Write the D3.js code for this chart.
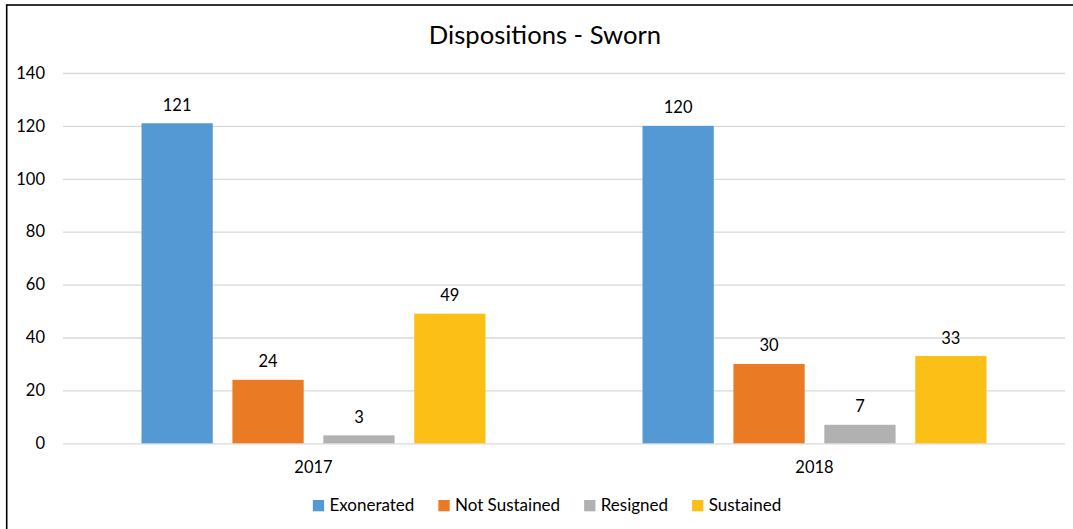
<!DOCTYPE html>
<html>
<head>
<meta charset="utf-8">
<script src="https://cdn.jsdelivr.net/npm/d3@7"></script>
<style>
  html, body { margin: 0; padding: 0; background: #fff; }
  svg { display: block; }
  text { font-family: Lato, "Open Sans", sans-serif; fill: #000; }
</style>
</head>
<body>
<svg id="chart" width="1073" height="529"></svg>
<script>
// Chart data
const title = "Dispositions - Sworn";
const years = ["2017", "2018"];
const seriesNames = ["Exonerated", "Not Sustained", "Resigned", "Sustained"];
const exonerated = [121, 120];
const notSustained = [24, 30];
const resigned = [3, 7];
const sustained = [49, 33];
const yTicks = [0, 20, 40, 60, 80, 100, 120, 140];
const seriesColors = ["#5599D4", "#EB7A25", "#B1B1B1", "#FCBF16"];

const seriesValues = [exonerated, notSustained, resigned, sustained];

const svg = d3.select("#chart");

// Plot area
const plot = { left: 63, right: 1065, top: 73, bottom: 443.3 };
const centerX = 545;

// Outer frame (extends past the right and bottom edges)
svg.append("rect")
  .attr("x", 6.7).attr("y", 5)
  .attr("width", 1200).attr("height", 700)
  .attr("fill", "#fff")
  .attr("stroke", "#000").attr("stroke-width", 1.6);

// Title
svg.append("text")
  .attr("x", centerX).attr("y", 44)
  .attr("text-anchor", "middle")
  .style("font-size", "25.6px")
  .text(title);

// Scales
const y = d3.scaleLinear().domain([0, 140]).range([plot.bottom, plot.top]);
const x0 = d3.scaleBand().domain(years).range([plot.left, plot.right]).padding(0);
const groupGap = 78.5;
const x1 = d3.scaleBand().domain(seriesNames)
  .range([groupGap, x0.bandwidth() - groupGap])
  .paddingInner(0.216).paddingOuter(0);

// Gridlines and value axis labels
const yAxis = d3.axisLeft(y).tickValues(yTicks).tickSize(-(plot.right - plot.left)).tickPadding(18);
const gy = svg.append("g").attr("transform", `translate(${plot.left},0)`).call(yAxis);
gy.select(".domain").remove();
gy.selectAll(".tick line").attr("stroke", "#d9d9d9").attr("stroke-width", 1.3);
gy.selectAll(".tick text")
  .style("font-size", "16.5px")
  .attr("fill", "#000")
  .attr("font-family", "Lato, sans-serif");

// Category labels
const xAxis = d3.axisBottom(x0).tickSize(0).tickPadding(18);
const gx = svg.append("g").attr("transform", `translate(0,${plot.bottom})`).call(xAxis);
gx.select(".domain").remove();
gx.selectAll(".tick text")
  .style("font-size", "16.5px")
  .attr("fill", "#000")
  .attr("font-family", "Lato, sans-serif");

// Bars
const rows = [];
years.forEach((yr, i) => {
  seriesNames.forEach((s, j) => {
    rows.push({ year: yr, series: s, value: seriesValues[j][i], color: seriesColors[j] });
  });
});

svg.append("g").selectAll("rect")
  .data(rows)
  .join("rect")
  .attr("x", d => x0(d.year) + x1(d.series))
  .attr("y", d => y(d.value))
  .attr("width", x1.bandwidth())
  .attr("height", d => y(0) - y(d.value))
  .attr("fill", d => d.color);

// Value labels
svg.append("g").selectAll("text")
  .data(rows)
  .join("text")
  .attr("x", d => x0(d.year) + x1(d.series) + x1.bandwidth() / 2)
  .attr("y", d => y(d.value) - 12.5)
  .attr("text-anchor", "middle")
  .style("font-size", "16.5px")
  .text(d => d.value);

// Legend
const legend = svg.append("g");
const items = legend.selectAll("g")
  .data(seriesNames)
  .join("g");
items.append("rect")
  .attr("width", 11.3).attr("height", 11.3)
  .attr("y", 500)
  .attr("fill", (d, i) => seriesColors[i]);
items.append("text")
  .attr("x", 16.6).attr("y", 511)
  .style("font-size", "17px")
  .text(d => d);

let cursor = 0;
items.each(function () {
  const g = d3.select(this);
  g.attr("transform", `translate(${cursor},0)`);
  const w = g.select("text").node().getComputedTextLength();
  cursor += 16.6 + w + 24;
});
const legendWidth = cursor - 24;
legend.attr("transform", `translate(${centerX + 2 - legendWidth / 2},0)`);
</script>
</body>
</html>
